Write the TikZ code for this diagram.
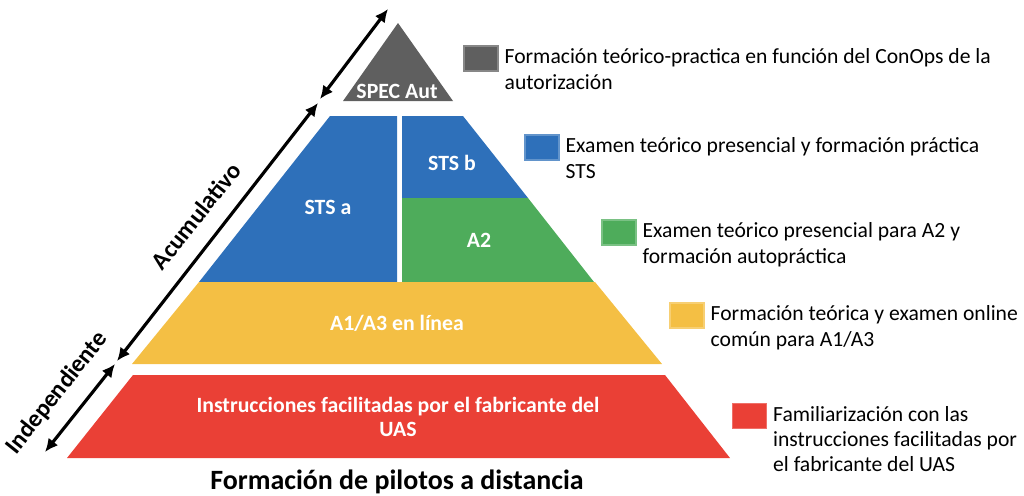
\documentclass[tikz,border=0pt]{standalone}
\usepackage{fontspec}
\setmainfont{Carlito}
\usetikzlibrary{arrows.meta,positioning}
\definecolor{specgray}{HTML}{5F5F5F}
\definecolor{stsblue}{HTML}{2E70BA}
\definecolor{atwogreen}{HTML}{4EAC5B}
\definecolor{aoneyellow}{HTML}{F4BF44}
\definecolor{uasred}{HTML}{EA4036}
\begin{document}
\begin{tikzpicture}[x=0.02cm, y=-0.02cm,
    layer/.style={text=white, font=\bfseries\fontsize{12.4}{13.5}\selectfont, align=center, inner sep=1pt},
    legendbox/.style={minimum width=0.68cm, minimum height=0.5cm, inner sep=0, draw=#1!75!white, fill=#1, line width=0.6pt},
    legendtext/.style={anchor=base west, align=left, inner sep=0, font=\fontsize{12.3}{14.3}\selectfont},
    levelarrow/.style={{Latex[length=7.5pt,width=7pt]}-{Latex[length=7.5pt,width=7pt]}, line width=1.8pt},
    levellabel/.style={font=\fontsize{13.9}{15}\selectfont\bfseries, rotate=51.5}]
    \useasboundingbox (0,0) rectangle (1024,495);

    % pyramid
    \fill[specgray] (398,23) -- (453,101) -- (343,101) -- cycle;
    \fill[stsblue] (330,116) -- (397,116) -- (397,282) -- (199,282) -- cycle;
    \fill[stsblue] (402,116) -- (463,116) -- (528,198) -- (402,198) -- cycle;
    \fill[atwogreen] (402,198) -- (528,198) -- (594,282) -- (402,282) -- cycle;
    \fill[aoneyellow] (199,282) -- (595,282) -- (662,364) -- (132,364) -- cycle;
    \fill[uasred] (133,375) -- (665,375) -- (730,458) -- (67,458) -- cycle;

    \node[layer] (spec) at (397,91) {SPEC Aut};
    \node[layer] (stsa) at (328,207) {STS a};
    \node[layer] (stsb) at (452,163) {STS b};
    \node[layer] (atwo) at (479,240) {A2};
    \node[layer] (aone) at (397,323) {A1/A3 en línea};
    \node[layer] (manual) at (398,417) {Instrucciones facilitadas por el fabricante del\\UAS};

    \node[font=\bfseries\fontsize{15.9}{19}\selectfont] (title) at (397,482) {Formación de pilotos a distancia};

    % level arrows
    \coordinate (auttop) at (388,9);
    \coordinate (autbot) at (320,99);
    \coordinate (acutop) at (318,103);
    \coordinate (acubot) at (117,361);
    \coordinate (indtop) at (115,364);
    \coordinate (indbot) at (45,452);
    \draw[levelarrow] (auttop) -- (autbot);
    \draw[levelarrow] (acutop) -- (acubot);
    \draw[levelarrow] (indtop) -- (indbot);
    \node[levellabel] (acu) at (196,216) {Acumulativo};
    \node[levellabel] (ind) at (57,393) {Independiente};

    % legend (base = last line)
    \node[legendbox=specgray] (sqspec) at (481,58.5) {};
    \node[legendtext] (txtspec) at ([xshift=3.3pt,yshift=-17.4pt]sqspec.east) {Formación teórico-practica en función del ConOps de la\\autorización};
    \node[legendbox=stsblue] (sqsts) at (542,147.5) {};
    \node[legendtext] (txtsts) at ([xshift=3.3pt,yshift=-17.4pt]sqsts.east) {Examen teórico presencial y formación práctica\\STS};
    \node[legendbox=atwogreen] (sqatwo) at (619,232.5) {};
    \node[legendtext] (txtatwo) at ([xshift=3.3pt,yshift=-17.4pt]sqatwo.east) {Examen teórico presencial para A2 y\\formación autopráctica};
    \node[legendbox=aoneyellow] (sqaone) at (687,315.5) {};
    \node[legendtext] (txtaone) at ([xshift=3.3pt,yshift=-17.4pt]sqaone.east) {Formación teórica y examen online\\común para A1/A3};
    \node[legendbox=uasred] (squas) at (749.5,416) {};
    \node[legendtext] (txtuas) at ([xshift=3.3pt,yshift=-31.7pt]squas.east) {Familiarización con las\\instrucciones facilitadas por\\el fabricante del UAS};
\end{tikzpicture}
\end{document}
